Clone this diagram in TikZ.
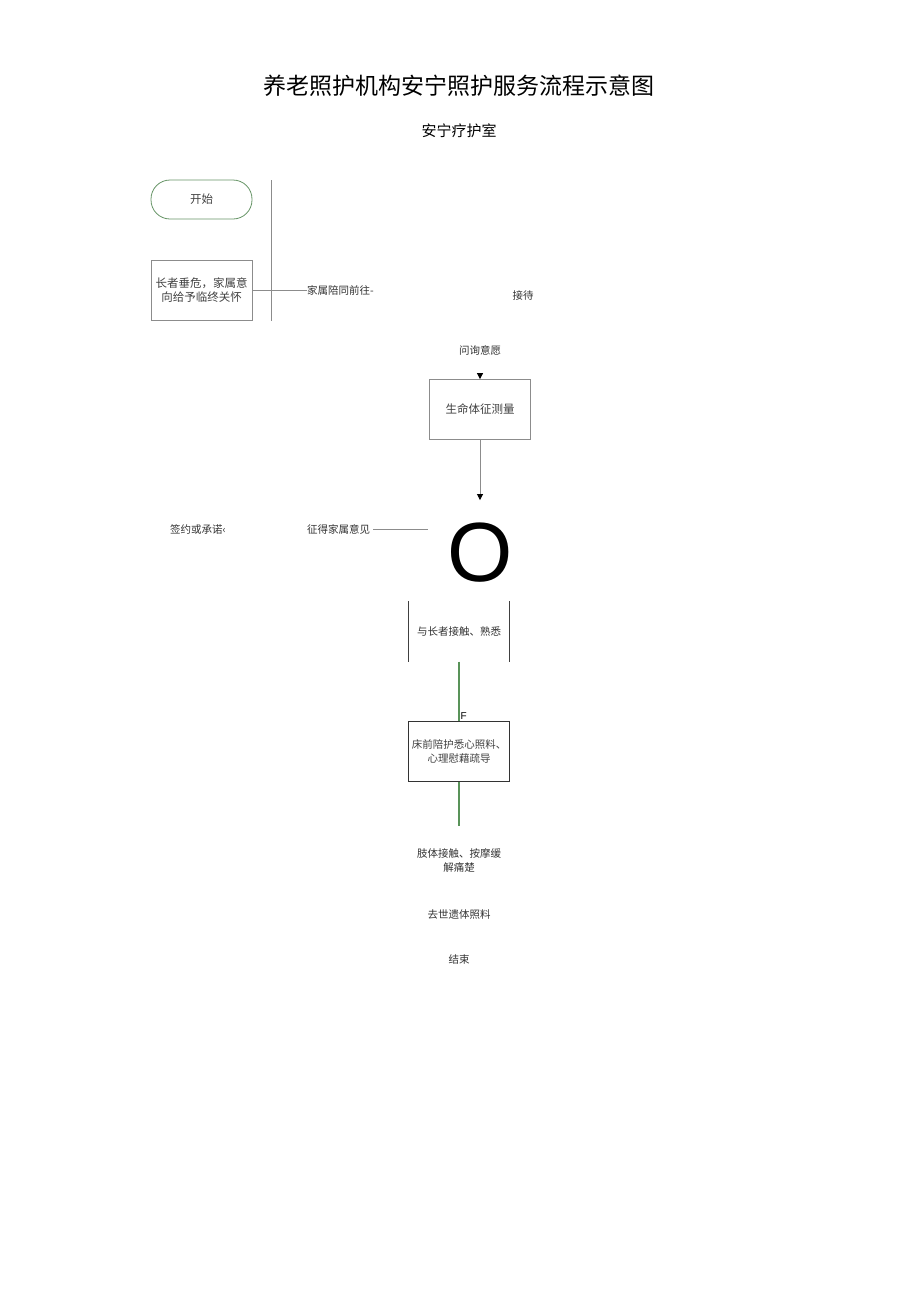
\documentclass[tikz,border=0pt]{standalone}
\usepackage{fontspec}
\setmainfont{Noto Sans CJK SC}
\newfontfamily\latinfont{Liberation Sans}
\usepackage{tikz}
\usetikzlibrary{positioning}
\usetikzlibrary{arrows.meta}
\colorlet{linecol}{black!45}
\colorlet{startcol}{green!30!black!60}
\colorlet{flowcol}{green!35!black!65}
\tikzset{>=latex}
\tikzset{
  stepbox/.style={draw=linecol, line width=0.8pt, minimum width=101pt,
    minimum height=60pt, align=center, text=black!75,
    font=\fontsize{11.5}{14}\selectfont},
  openbox/.style={minimum width=101pt, minimum height=60pt, align=center,
    text=black!80, font=\fontsize{10.5}{14}\selectfont},
  startbox/.style={draw=startcol, line width=0.8pt, rounded corners=19pt,
    minimum width=101pt, minimum height=39pt, text=black!75,
    font=\fontsize{11.5}{14}\selectfont},
  lbl/.style={inner sep=0pt, align=center, text=black!80,
    font=\fontsize{10.5}{14}\selectfont},
  tip/.style={-{Triangle[width=6pt,length=6pt,fill=black,color=black]}}
}

\begin{document}
\begin{tikzpicture}[x=1pt, y=-1pt]

\useasboundingbox (0,0) rectangle (920,1301);

% --- Title ---
\node[inner sep=0pt, font=\fontsize{23}{26}\selectfont] (title) at (459,86)
  {养老照护机构安宁照护服务流程示意图};
\node[inner sep=0pt, font=\fontsize{15}{18}\selectfont] (room) at (459,131)
  {安宁疗护室};

% --- Left column ---
\node[startbox] (start) at (201.5,199.5) {开始};
\node[stepbox] (care) at (201.5,290.5) {长者垂危，家属意\\向给予临终关怀};
\draw[linecol, line width=0.8pt] (271,180) -- (271,321);

\node[lbl, anchor=west] (accomp) at (307,290.5) {家属陪同前往-};
\draw[linecol, line width=0.8pt] (care.east) -- (care.east -| accomp.west);

% --- Reception ---
\node[lbl] (receive) at (523,296) {接待};
\node[lbl] (ask) at (480,350) {问询意愿};
\node[stepbox] (vital) at (480,409.5) {生命体征测量};
\draw[tip, linecol, line width=0.8pt, shorten <=18pt] (ask) -- (vital.north);

% --- Family decision ---
\node[inner sep=0pt, font=\latinfont\fontsize{84}{84}\selectfont] (dec) at (480,553) {O};
\draw[tip, linecol, line width=0.8pt, shorten >=23pt] (vital.south) -- (dec.north);

\node[lbl, anchor=west] (seek) at (307,529) {征得家属意见};
\draw[linecol, line width=0.6pt, shorten <=3pt, shorten >=19pt] (seek.east) -- (seek.east -| dec.west);
\node[lbl] (sign) at (198,529) {签约或承诺‹};

% --- Care steps ---
\node[openbox] (meet) at (459,631.5) {与长者接触、熟悉};
\draw[black!75, line width=0.8pt] (meet.north west) -- (meet.south west);
\draw[black!75, line width=0.8pt] (meet.north east) -- (meet.south east);

\node[stepbox, draw=black!80, inner sep=2pt, font=\fontsize{10.5}{14}\selectfont]
  (bed) at (459,751.5) {床前陪护悉心照料、\\心理慰藉疏导};
\draw[flowcol, line width=1.2pt] (meet.south) -- (bed.north)
  node[pos=1, anchor=south west, inner sep=1pt, text=black,
    font=\latinfont\fontsize{10}{10}\selectfont] {F};

\node[lbl] (touch) at (459,860) {肢体接触、按摩缓\\解痛楚};
\draw[flowcol, line width=1.2pt, shorten >=22pt] (bed.south) -- (touch.north);

% --- End ---
\node[lbl] (body) at (459,915) {去世遗体照料};
\node[lbl] (finish) at (459,959) {结束};

\end{tikzpicture}
\end{document}
